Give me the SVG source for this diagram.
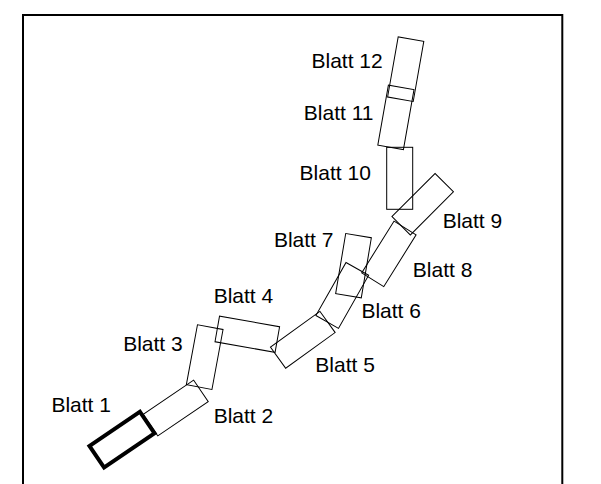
<svg xmlns="http://www.w3.org/2000/svg" width="601" height="484" viewBox="0 0 601 484">
<style>
.leaf{fill:none;stroke:#000;stroke-width:1}
.thick{fill:none;stroke:#000;stroke-width:4}
.lbl{font-family:"Liberation Sans",Arial,sans-serif;font-size:21px;fill:#000}
</style>
<rect width="601" height="484" fill="#fff"/>
<path d="M23,490 V15 H562.3 V490" fill="none" stroke="#000" stroke-width="2"/>
<g id="blatt1">
<rect class="thick" x="-30.5" y="-13" width="61" height="26" transform="translate(122,439.7) rotate(-34.2)"/>
<text class="lbl" x="51.4" y="412">Blatt 1</text>
</g>
<g id="blatt2">
<rect class="leaf" x="-30.5" y="-13" width="61" height="26" transform="translate(175.7,408) rotate(-34.2)"/>
<text class="lbl" x="213.7" y="423">Blatt 2</text>
</g>
<g id="blatt3">
<rect class="leaf" x="-13" y="-30.5" width="26" height="61" transform="translate(204.7,357.1) rotate(10.5)"/>
<text class="lbl" x="123.2" y="350.7">Blatt 3</text>
</g>
<g id="blatt4">
<rect class="leaf" x="-30.5" y="-13" width="61" height="26" transform="translate(247.3,334.25) rotate(10)"/>
<text class="lbl" x="213.7" y="302.7">Blatt 4</text>
</g>
<g id="blatt5">
<rect class="leaf" x="-30.5" y="-13" width="61" height="26" transform="translate(302.8,339.8) rotate(-35.8)"/>
<text class="lbl" x="315.3" y="371.7">Blatt 5</text>
</g>
<g id="blatt6">
<rect class="leaf" x="-13" y="-30.5" width="26" height="61" transform="translate(342.25,295.4) rotate(29.6)"/>
<text class="lbl" x="361.4" y="318.3">Blatt 6</text>
</g>
<g id="blatt7">
<rect class="leaf" x="-13" y="-30.5" width="26" height="61" transform="translate(353.5,265.7) rotate(9.5)"/>
<text class="lbl" x="273.9" y="246.7">Blatt 7</text>
</g>
<g id="blatt8">
<rect class="leaf" x="-13" y="-30.5" width="26" height="61" transform="translate(388.9,253.85) rotate(32)"/>
<text class="lbl" x="412.8" y="276.7">Blatt 8</text>
</g>
<g id="blatt9">
<rect class="leaf" x="-13" y="-30.5" width="26" height="61" transform="translate(422.7,204.2) rotate(45)"/>
<text class="lbl" x="442.7" y="228.3">Blatt 9</text>
</g>
<g id="blatt10">
<rect class="leaf" x="386.7" y="147.3" width="26" height="62"/>
<text class="lbl" x="299.6" y="180">Blatt 10</text>
</g>
<g id="blatt11">
<rect class="leaf" x="-13" y="-30.5" width="26" height="61" transform="translate(395.9,117.4) rotate(10)"/>
<text class="lbl" x="303.8" y="120">Blatt 11</text>
</g>
<g id="blatt12">
<rect class="leaf" x="-13" y="-30.5" width="26" height="61" transform="translate(405.7,69.2) rotate(10)"/>
<text class="lbl" x="311.5" y="68.3">Blatt 12</text>
</g>
</svg>
